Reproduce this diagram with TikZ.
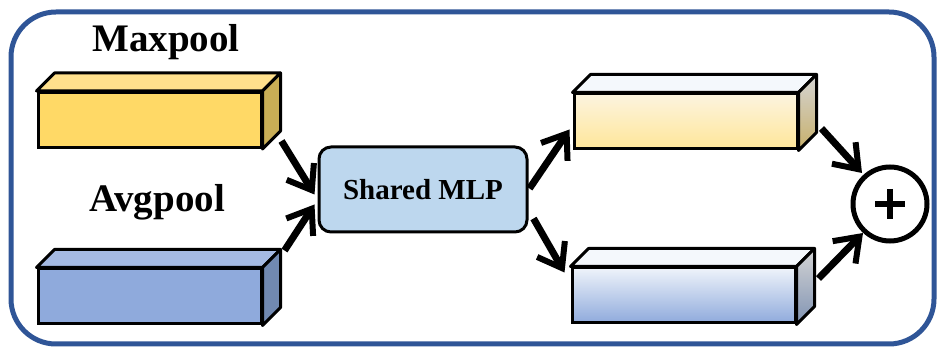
\documentclass[tikz,border=0pt]{standalone}
\usepackage{fontspec}
\setmainfont{Liberation Serif}
\usetikzlibrary{arrows.meta,calc}
\definecolor{frameblue}{HTML}{2F5597}
\definecolor{ylwfront}{HTML}{FFD966}
\definecolor{ylwtop}{HTML}{FFE08C}
\definecolor{ylwside}{HTML}{C9AE56}
\definecolor{blufront}{HTML}{8FAADC}
\definecolor{blutop}{HTML}{A5BAE3}
\definecolor{bluside}{HTML}{7189B1}
\definecolor{mlpfill}{HTML}{BDD7EE}
\definecolor{paletop}{HTML}{F4F8FC}
\definecolor{ylwlight}{HTML}{FCF4DF}
\definecolor{ylwgrad}{HTML}{FFE699}
\definecolor{blulight}{HTML}{EEF3FA}
\definecolor{sidegray}{HTML}{D4D4D4}
\definecolor{ylwsidegrad}{HTML}{C8B06A}
\definecolor{blusidegrad}{HTML}{8093B3}
\tikzset{
  frontface/.style={draw, line width=3, minimum width=223, minimum height=55, inner sep=0pt},
  face/.style={draw, line width=3, line join=round},
  arr/.style={line width=7, -{Straight Barb[length=22pt,width=32pt,line width=6pt]}},
  lbl/.style={font=\fontsize{39}{47}\selectfont\bfseries, anchor=base},
}
\newcommand{\cuboid}[4]{% node, front-fill-style, top style, side style
  \draw[face,#3] (#1.north west) -- ++(18,-18) -- ($(#1.north east)+(18,-18)$) -- (#1.north east) -- cycle;
  \draw[face,#4] (#1.north east) -- ++(18,-18) -- ($(#1.south east)+(18,-18)$) -- (#1.south east) -- cycle;
}
\begin{document}
\begin{tikzpicture}[x=1pt,y=-1pt]
\useasboundingbox (0,0) rectangle (938,347);
\draw[frameblue, line width=5, rounded corners=45] (11,12) rectangle (934,344);
% left boxes
\node[frontface, fill=ylwfront] (max) at (149.5,120) {};
\cuboid{max}{}{fill=ylwtop}{fill=ylwside}
\node[frontface, fill=blufront] (avg) at (149.5,296.5) {};
\cuboid{avg}{}{fill=blutop}{fill=bluside}
\node[lbl] (maxlbl) at (166,52) {Maxpool};
\node[lbl] (avglbl) at (157,212) {Avgpool};
% shared MLP
\node[draw, line width=3, fill=mlpfill, rounded corners=12, minimum width=208, minimum height=85,
      font=\fontsize{29}{35}\selectfont\bfseries] (mlp) at (423,189.5) {Shared MLP};
% right boxes
\node[frontface, top color=ylwlight, middle color=ylwgrad, bottom color=ylwgrad] (outa) at (685.5,121.5) {};
\cuboid{outa}{}{fill=paletop}{top color=sidegray, bottom color=ylwsidegrad}
\node[frontface, top color=blulight, bottom color=blufront] (outb) at (683.5,295.5) {};
\cuboid{outb}{}{fill=paletop}{top color=sidegray, bottom color=blusidegrad}
% sum
\node[circle, draw, line width=5, minimum size=74, inner sep=0pt] (sum) at (890,204) {};
\draw[line width=5.5] ($(sum.center)+(-15,0)$) -- ($(sum.center)+(15,0)$);
\draw[line width=5.5] ($(sum.center)+(0,-15)$) -- ($(sum.center)+(0,15)$);
% arrows
\draw[arr] ($(max.south east)+(19,-8)$) -- ($(mlp.west)+(-3,5)$);
\draw[arr] ($(avg.north east)+(22,-17)$) -- ($(mlp.west)+(-3,15)$);
\draw[arr] ($(mlp.east)+(1,-1)$) -- ($(outa.west)+(-3,8)$);
\draw[arr] ($(mlp.east)+(5,29)$) -- ($(outb.west)+(-6,-23)$);
\draw[arr] ($(outa.south east)+(23,-22)$) -- ($(sum.center)+(-28,-31)$);
\draw[arr] ($(outb.north east)+(22,12)$) -- ($(sum.center)+(-27,29)$);
\end{tikzpicture}
\end{document}
